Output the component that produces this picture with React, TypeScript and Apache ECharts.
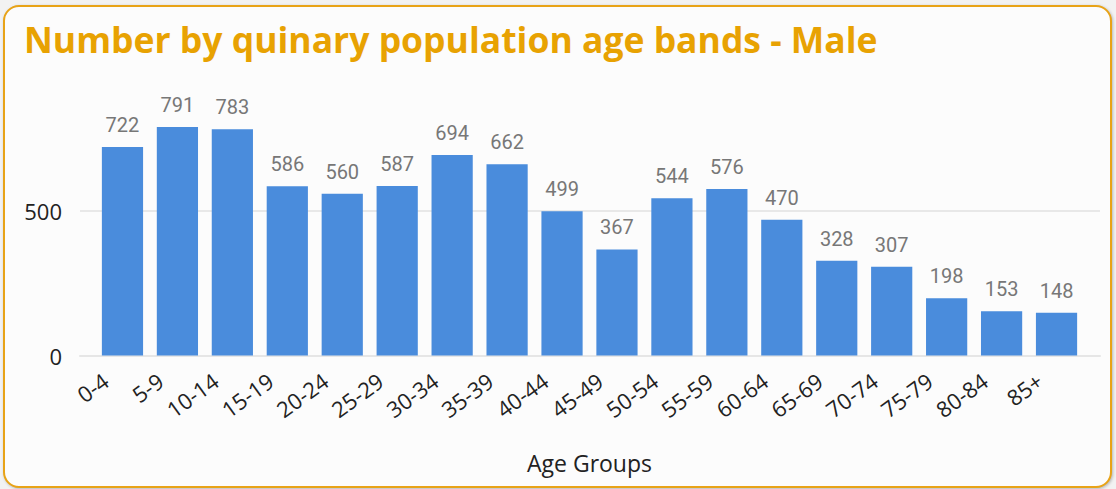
import React, { useEffect, useRef } from "react";
import * as echarts from "echarts";

const titleText = "Number by quinary population age bands - Male";
const ageGroups = ["0-4", "5-9", "10-14", "15-19", "20-24", "25-29", "30-34", "35-39", "40-44", "45-49", "50-54", "55-59", "60-64", "65-69", "70-74", "75-79", "80-84", "85+"];
const maleCounts = [722, 791, 783, 586, 560, 587, 694, 662, 499, 367, 544, 576, 470, 328, 307, 198, 153, 148];
const xAxisName = "Age Groups";
const yMin = 0;
const yMax = 900;
const yStep = 500;

export default function App() {
  const ref = useRef<HTMLDivElement>(null);
  useEffect(() => {
    document.body.style.margin = "0";
    const chart = echarts.init(ref.current!, null, { renderer: "svg" });
    chart.setOption({
      animation: false,
      title: {
        text: titleText,
        left: 19,
        top: 16,
        textStyle: {
          fontFamily: "Open Sans",
          fontWeight: "bold",
          fontSize: 35.5,
          color: "#E8A202",
        },
      },
      grid: [
        { left: 95, right: 32, top: 95.5, bottom: 133.5 },
        { left: 80, right: 16, top: 95.5, bottom: 133.5 },
      ],
      xAxis: [
        {
          type: "category",
          gridIndex: 0,
          data: ageGroups,
          name: xAxisName,
          nameLocation: "middle",
          nameGap: 96,
          nameTextStyle: { fontFamily: "Open Sans", fontSize: 23, color: "#222" },
          axisLine: { show: false },
          axisTick: { show: false },
          axisLabel: {
            rotate: 36,
            interval: 0,
            margin: 10,
            padding: [0, 21, 0, 0],
            fontFamily: "Open Sans",
            fontSize: 22,
            color: "#222",
          },
        },
        {
          type: "category",
          gridIndex: 1,
          data: [""],
          axisLine: { show: true, lineStyle: { color: "#e6e6e6", width: 2 } },
          axisTick: { show: false },
          axisLabel: { show: false },
        },
      ],
      yAxis: [
        {
          type: "value",
          gridIndex: 0,
          min: yMin,
          max: yMax,
          interval: yStep,
          axisLine: { show: false },
          axisTick: { show: false },
          axisLabel: { show: false },
          splitLine: { show: false },
        },
        {
          type: "value",
          gridIndex: 1,
          min: yMin,
          max: yMax,
          interval: yStep,
          axisLine: { show: false },
          axisTick: { show: false },
          axisLabel: {
            showMaxLabel: false,
            margin: 18,
            fontFamily: "Open Sans",
            fontSize: 22,
            color: "#222",
          },
          splitLine: { show: true, showMaxLine: false, showMinLine: false, lineStyle: { color: "#e8e8e8", width: 2 } },
        },
      ],
      series: [
        {
          type: "bar",
          xAxisIndex: 0,
          yAxisIndex: 0,
          data: maleCounts,
          barCategoryGap: "25%",
          itemStyle: { color: "#4A8CDC" },
          label: {
            show: true,
            position: "top",
            distance: 12,
            fontFamily: "Roboto",
            fontSize: 20,
            color: "#777",
          },
        },
      ],
    });
    return () => chart.dispose();
  }, []);
  return (
    <div style={{ position: "fixed", left: 0, top: 0, width: 1116, height: 489, background: "#f2f2f2" }}>
      <div
        style={{
          position: "absolute",
          left: 3,
          top: 5,
          width: 1109,
          height: 483,
          boxSizing: "border-box",
          border: "2px solid #E8A317",
          borderRadius: 16,
          background: "#fcfcfc",
          boxShadow: "1px 1px 3px rgba(0,0,0,0.25)",
        }}
      />
      <div ref={ref} style={{ position: "absolute", left: 0, top: 0, width: 1116, height: 489 }} />
    </div>
  );
}
